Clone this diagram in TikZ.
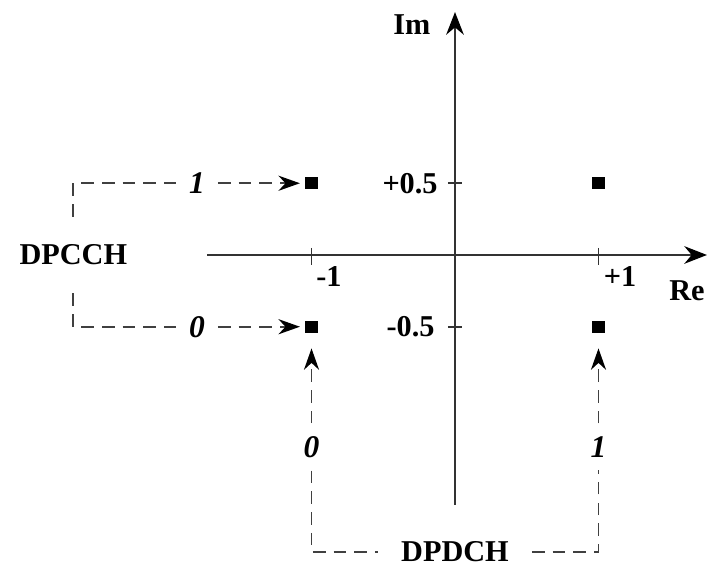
\documentclass[tikz,border=0pt]{standalone}
\usepackage{fontspec}
\setmainfont{Liberation Serif}
\usetikzlibrary{arrows.meta,positioning}

\begin{document}
\begin{tikzpicture}[x=2cm,y=2cm,>={Stealth[length=8.5pt,width=6pt,black]},
  font=\fontsize{12}{14}\selectfont,
  axis/.style={black!80,line width=0.7pt},
  dashline/.style={black!75,line width=0.7pt,dash pattern=on 5pt off 3.2pt},
  sym/.style={fill=black,inner sep=0pt,minimum size=4.8pt},
  lbl/.style={font=\fontsize{12}{14}\selectfont\bfseries},
  bit/.style={font=\fontsize{12.5}{14}\selectfont\bfseries\itshape,inner sep=5pt}]
\useasboundingbox (-3.171,-2.167) rectangle (1.812,1.777);
% axes
\coordinate (xl) at (-1.728,0);
\coordinate (xr) at (1.756,0);
\coordinate (yb) at (0,-1.742);
\coordinate (yt) at (0,1.693);
\draw[axis,-{Stealth[length=9pt,width=7pt,black]}] (xl) -- (xr);
\draw[axis,-{Stealth[length=9pt,width=7pt,black]}] (yb) -- (yt);
\node[lbl] (re) at (1.617,-0.25) {Re};
\node[lbl] (im) at (-0.30,1.603) {Im};
% ticks
\draw[axis] (-1,0.05) -- (-1,-0.07);
\draw[axis] (1,0.05) -- (1,-0.07);
\draw[axis] (-0.05,0.5) -- (0.05,0.5);
\draw[axis] (-0.05,-0.5) -- (0.05,-0.5);
\node[lbl] (tm1) at (-0.878,-0.153) {-1};
\node[lbl] (tp1) at (1.15,-0.153) {+1};
\node[lbl,anchor=east,inner sep=0pt] (tph) at (-0.118,0.5) {+0.5};
\node[lbl,anchor=east,inner sep=0pt] (tmh) at (-0.139,-0.5) {-0.5};
% symbols
\node[sym] (p11) at (-1,0.5) {};
\node[sym] (p21) at (1,0.5) {};
\node[sym] (p10) at (-1,-0.5) {};
\node[sym] (p20) at (1,-0.5) {};
% DPCCH mapping
\node[lbl,inner ysep=11pt] (dpcch) at (-2.66,0) {DPCCH};
\node[bit] (c1) at (-1.798,0.5) {1};
\node[bit] (c0) at (-1.798,-0.5) {0};
\draw[dashline] (dpcch.north) |- (c1.west);
\draw[dashline] (dpcch.south) |- (c0.west);
\draw[dashline,->,shorten >=2pt] (c1.east) -- (p11.west);
\draw[dashline,->,shorten >=2pt] (c0.east) -- (p10.west);
% DPDCH mapping
\node[bit] (b0) at (-1,-1.338) {0};
\node[bit] (b1) at (1,-1.338) {1};
\node[lbl,inner xsep=9pt] (dpdch) at (0,-2.07) {DPDCH};
\draw[dashline,->,shorten >=6pt] (b0.north) -- (p10.south);
\draw[dashline,->,shorten >=6pt] (b1.north) -- (p20.south);
\draw[dashline] (b0.south) |- (dpdch.west);
\draw[dashline] (dpdch.east) -| (b1.south);
\end{tikzpicture}
\end{document}
